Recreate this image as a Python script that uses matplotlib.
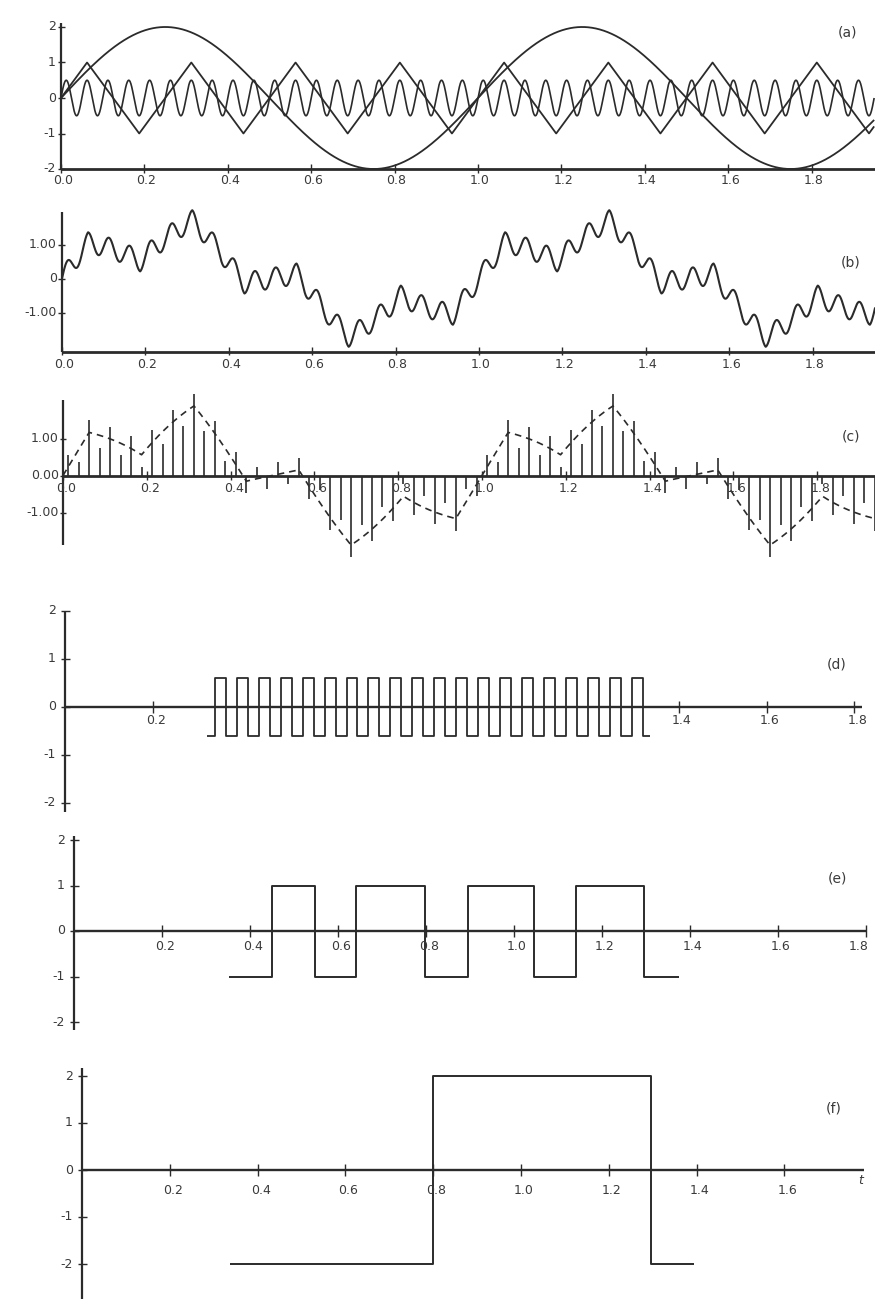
import numpy as np
import matplotlib
matplotlib.use('Agg')
import matplotlib.pyplot as plt

W, H, DPI = 875, 1299, 100
INK = '#2b2b2b'
TXT = '#3a3a3a'

# ---------------- data ----------------
t_end = 1.95
sine_amp, sine_freq = 2.0, 1.0          # slow sine in (a)
tri_amp, tri_freq = 1.0, 4.0            # triangle wave in (a)
ripple_amp, ripple_freq = 0.5, 20.0     # fast sine in (a)
b_scale = 0.60                          # composite signal (b)
c_scale = 0.66                          # sampled signal (c)
sample_step = 0.025
sample_first = 0.0125

# (d) 20 Hz pulse train: edge times and level
d_level = 0.6
d_times = [0.323, 0.342, 0.367, 0.392, 0.417, 0.442, 0.467, 0.492, 0.517, 0.542,
           0.567, 0.592, 0.617, 0.642, 0.667, 0.692, 0.717, 0.742, 0.767, 0.792,
           0.817, 0.842, 0.867, 0.892, 0.917, 0.942, 0.967, 0.992, 1.017, 1.042,
           1.067, 1.092, 1.117, 1.142, 1.167, 1.192, 1.217, 1.242, 1.267, 1.292,
           1.317, 1.334]
# (e) 4 Hz square wave
e_times = [0.352, 0.449, 0.547, 0.641, 0.798, 0.896, 1.046, 1.140, 1.295, 1.376]
e_levels = [-1, 1, -1, 1, -1, 1, -1, 1, -1]
# (f) 1 Hz square wave
f_times = [0.336, 0.799, 1.297, 1.395]
f_levels = [-2, 2, -2]

ticks_full = [0.0, 0.2, 0.4, 0.6, 0.8, 1.0, 1.2, 1.4, 1.6, 1.8]
tick_labels_full = ['0.0', '0.2', '0.4', '0.6', '0.8', '1.0', '1.2', '1.4', '1.6', '1.8']
d_ticks = [0.2, 1.4, 1.6, 1.8]
d_tick_labels = ['0.2', '1.4', '1.6', '1.8']
e_ticks = [0.2, 0.4, 0.6, 0.8, 1.0, 1.2, 1.4, 1.6, 1.8]
e_tick_labels = ['0.2', '0.4', '0.6', '0.8', '1.0', '1.2', '1.4', '1.6', '1.8']
f_ticks = [0.2, 0.4, 0.6, 0.8, 1.0, 1.2, 1.4, 1.6]
f_tick_labels = ['0.2', '0.4', '0.6', '0.8', '1.0', '1.2', '1.4', '1.6']
int_ticks = [-2, -1, 0, 1, 2]
int_labels = ['-2', '-1', '0', '1', '2']
panel_labels = ['(a)', '(b)', '(c)', '(d)', '(e)', '(f)']

# ---------------- helpers ----------------
fig = plt.figure(figsize=(W / DPI, H / DPI), dpi=DPI)
fig.patch.set_facecolor('white')
FS = 9


class Panel:
    def __init__(self, top, bot, x0, sx, y0, sy):
        self.x0, self.sx, self.y0, self.sy = x0, sx, y0, sy
        ax = fig.add_axes([0, 1 - bot / H, 1, (bot - top) / H])
        ax.set_xlim(-x0 / sx, (W - x0) / sx)
        ax.set_ylim((y0 - bot) / sy, (y0 - top) / sy)
        ax.axis('off')
        ax.patch.set_visible(False)
        self.ax = ax

    def tx(self, px):
        return (px - self.x0) / self.sx

    def ty(self, py):
        return (self.y0 - py) / self.sy

    def px(self, t):
        return self.x0 + t * self.sx

    def line(self, x, y, lw=1.3, **kw):
        self.ax.plot(x, y, color=INK, lw=lw, clip_on=False, solid_capstyle='butt', **kw)

    def text(self, px, py, s, ha='center', size=FS, **kw):
        self.ax.text(self.tx(px), self.ty(py), s, ha=ha, va='center', fontsize=size,
                     color=TXT, family='DejaVu Sans', clip_on=False, **kw)


def steps(times, levels):
    xs, ys = [], []
    for i, lv in enumerate(levels):
        xs += [times[i], times[i + 1]]
        ys += [lv, lv]
    return np.array(xs), np.array(ys)


t = np.linspace(0, t_end, 6000)
slow = sine_amp * np.sin(2 * np.pi * sine_freq * t)
tri = tri_amp * (2 / np.pi) * np.arcsin(np.sin(2 * np.pi * tri_freq * t))
ripple = ripple_amp * np.sin(2 * np.pi * ripple_freq * t)

# ---------------- (a) ----------------
pa = Panel(0, 200, 61, 417, 98, 35.5)
pa.line(t, slow, lw=1.3)
pa.line(t, tri, lw=1.3)
pa.line(t, ripple, lw=1.2)
pa.line([0, 0], [-2, 2.1], lw=1.6)
pa.line([0, pa.tx(W)], [-2, -2], lw=2.0)
for v, lb in zip(int_ticks, int_labels):
    pa.line([pa.tx(58), pa.tx(65)], [v, v], lw=1.0)
    pa.text(56, pa.y0 - v * pa.sy, lb, ha='right')
for tk, lb in zip(ticks_full, tick_labels_full):
    pa.line([tk, tk], [-2 - 0.1, -2 + 0.15], lw=1.0)
    pa.text(pa.px(tk) + 2, 181, lb)
pa.text(848, 32, panel_labels[0], size=10)

# ---------------- (b) ----------------
pb = Panel(200, 372, 62, 417, 278.5, 34)
comp = slow + tri + ripple
pb.line(t, b_scale * comp, lw=1.5)
ybot = pb.ty(352)
pb.line([0, 0], [ybot, pb.ty(212)], lw=1.6)
pb.line([0, pb.tx(W)], [ybot, ybot], lw=2.0)
for v, lb in zip([1, 0, -1], ['1.00', '0', '-1.00']):
    pb.line([pb.tx(58), pb.tx(65)], [v, v], lw=1.0)
    pb.text(57, pb.y0 - v * pb.sy, lb, ha='right')
for tk, lb in zip(ticks_full, tick_labels_full):
    pb.line([tk, tk], [ybot - 0.1, ybot + 0.15], lw=1.0)
    pb.text(pb.px(tk) + 2, 364, lb)
pb.text(851, 262, panel_labels[1], size=10)

# ---------------- (c) ----------------
pc = Panel(372, 590, 63, 419, 475.5, 37)
ts = np.arange(sample_first, t_end, sample_step)
smp = c_scale * (sine_amp * np.sin(2 * np.pi * sine_freq * ts)
                 + tri_amp * (2 / np.pi) * np.arcsin(np.sin(2 * np.pi * tri_freq * ts))
                 + ripple_amp * np.sin(2 * np.pi * ripple_freq * ts))
pc.ax.vlines(ts, 0, smp, color=INK, lw=1.2)
pc.ax.plot(t, c_scale * (slow + tri), color=INK, lw=1.2, ls=(0, (4, 3)))
pc.line([0, 0], [pc.ty(545), pc.ty(400)], lw=1.6)
pc.line([0, pc.tx(W)], [0, 0], lw=2.0)
for v, lb in zip([1, 0, -1], ['1.00', '0.00', '-1.00']):
    pc.line([pc.tx(60), pc.tx(66)], [v, v], lw=1.0)
    pc.text(59, pc.y0 - v * pc.sy, lb, ha='right')
for tk, lb in zip(ticks_full, tick_labels_full):
    pc.line([tk, tk], [-0.12, 0.12], lw=1.0)
    pc.text(pc.px(tk) + 3, 489, lb)
pc.text(851, 437, panel_labels[2], size=10)

# ---------------- (d) ----------------
pd = Panel(590, 830, 65, 438.5, 707, 48)
d_levels = [d_level * (1 if i % 2 else -1) for i in range(len(d_times) - 1)]
xd, yd = steps(d_times, d_levels)
pd.line(xd, yd, lw=1.3)
pd.line([0, 0], [pd.ty(812), pd.ty(611)], lw=1.6)
pd.line([0, pd.tx(862)], [0, 0], lw=1.7)
for v, lb in zip(int_ticks, int_labels):
    pd.line([pd.tx(61), pd.tx(70)], [v, v], lw=1.0)
    pd.text(56, pd.y0 - v * pd.sy, lb, ha='right')
for tk, lb in zip(d_ticks, d_tick_labels):
    pd.line([tk, tk], [-0.12, 0.12], lw=1.0)
    pd.text(min(pd.px(tk) + 3, 860), 721, lb)
pd.text(837, 665, panel_labels[3], size=10)

# ---------------- (e) ----------------
pe = Panel(830, 1045, 74, 440, 931, 45.5)
xe, ye = steps(e_times, e_levels)
pe.line(xe, ye, lw=1.4)
pe.line([0, 0], [pe.ty(1030), pe.ty(836)], lw=1.6)
pe.line([0, pe.tx(866)], [0, 0], lw=1.7)
for v, lb in zip(int_ticks, int_labels):
    pe.line([pe.tx(70), pe.tx(79)], [v, v], lw=1.0)
    pe.text(65, pe.y0 - v * pe.sy, lb, ha='right')
for tk, lb in zip(e_ticks, e_tick_labels):
    pe.line([tk, tk], [-0.13, 0.13], lw=1.0)
    pe.text(min(pe.px(tk) + 3, 859), 947, lb)
pe.text(837, 878, panel_labels[4], size=10)

# ---------------- (f) ----------------
pf = Panel(1045, 1299, 82, 439, 1170, 47)
xf, yf = steps(f_times, f_levels)
pf.line(xf, yf, lw=1.4)
pf.line([0, 0], [pf.ty(1299), pf.ty(1068)], lw=1.6)
pf.line([0, pf.tx(864)], [0, 0], lw=1.7)
for v, lb in zip(int_ticks, int_labels):
    pf.line([pf.tx(78), pf.tx(87)], [v, v], lw=1.0)
    pf.text(73, pf.y0 - v * pf.sy, lb, ha='right')
for tk, lb in zip(f_ticks, f_tick_labels):
    pf.line([tk, tk], [-0.13, 0.13], lw=1.0)
    pf.text(pf.px(tk) + 3, 1190, lb)
pf.text(861, 1181, 't', size=FS, style='italic')
pf.text(834, 1108, panel_labels[5], size=10)

fig.savefig('out.png', dpi=DPI, facecolor='white')
